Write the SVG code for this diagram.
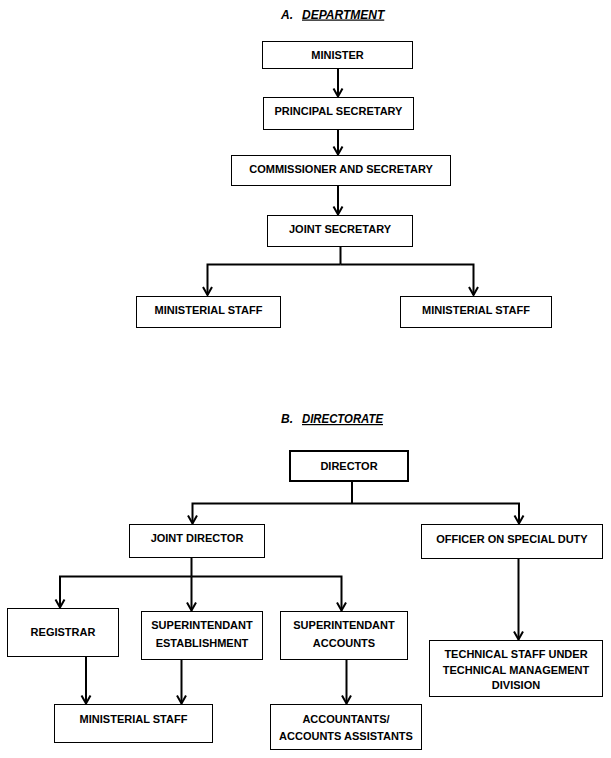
<svg xmlns="http://www.w3.org/2000/svg" width="611" height="758" viewBox="0 0 611 758">
<style>
  .box { fill: #ffffff; stroke: #000000; stroke-width: 1; }
  .boxb { fill: #ffffff; stroke: #000000; stroke-width: 2; }
  .lbl { font-family: "Liberation Sans", Arial, sans-serif; font-weight: bold; font-size: 11px; fill: #000000; text-anchor: middle; }
  .ttl { font-family: "Liberation Sans", Arial, sans-serif; font-weight: bold; font-style: italic; font-size: 12px; fill: #000000; }
  .con { fill: none; stroke: #000000; stroke-width: 2; }
  .arr { marker-end: url(#ah); }
</style>
<defs>
  <marker id="ah" viewBox="-10 -6 12 12" markerWidth="12" markerHeight="12" markerUnits="userSpaceOnUse" refX="0" refY="0" orient="auto">
    <path d="M-8,-4.5 L0,0 L-8,4.5" fill="none" stroke="#000000" stroke-width="2"/>
  </marker>
</defs>
<rect x="0" y="0" width="611" height="758" fill="#ffffff"/>

<g id="title-a">
  <text class="ttl" x="281" y="18.5">A.<tspan x="302" text-decoration="underline">DEPARTMENT</tspan></text>
</g>
<g id="title-b">
  <text class="ttl" x="281" y="423">B.<tspan x="302" textLength="81" lengthAdjust="spacingAndGlyphs" text-decoration="underline">DIRECTORATE</tspan></text>
</g>

<g id="connectors">
  <!-- Department -->
  <line class="con arr" x1="338" y1="68.5" x2="338" y2="96.5"/>
  <line class="con arr" x1="338" y1="129.5" x2="338" y2="154.5"/>
  <line class="con arr" x1="338" y1="185.5" x2="338" y2="214.5"/>
  <polyline class="con" points="340.5,246.5 340.5,264.5"/>
  <polyline class="con arr" points="340.5,264.5 207.5,264.5 207.5,295"/>
  <polyline class="con arr" points="340.5,264.5 473.5,264.5 473.5,295"/>
  <!-- Directorate -->
  <polyline class="con" points="352,482 352,503.5"/>
  <polyline class="con arr" points="352,503.5 192.5,503.5 192.5,523.5"/>
  <polyline class="con arr" points="352,503.5 519,503.5 519,523.5"/>
  <polyline class="con" points="191.5,557.5 191.5,576.5"/>
  <polyline class="con arr" points="191.5,576.5 60,576.5 60,607.5"/>
  <line class="con arr" x1="191.5" y1="576.5" x2="191.5" y2="610.5"/>
  <polyline class="con arr" points="191.5,576.5 341.5,576.5 341.5,610.5"/>
  <line class="con arr" x1="518.5" y1="558.5" x2="518.5" y2="639.5"/>
  <line class="con arr" x1="86" y1="656.5" x2="86" y2="703.5"/>
  <line class="con arr" x1="181.5" y1="659.5" x2="181.5" y2="703.5"/>
  <line class="con arr" x1="346.5" y1="659.5" x2="346.5" y2="703.5"/>
</g>

<g id="minister">
  <rect class="box" x="262.5" y="41.5" width="150" height="27"/>
  <text class="lbl" x="337.5" y="59">MINISTER</text>
</g>
<g id="principal-secretary">
  <rect class="box" x="263.5" y="97.5" width="150" height="32"/>
  <text class="lbl" x="338.5" y="115">PRINCIPAL SECRETARY</text>
</g>
<g id="commissioner">
  <rect class="box" x="231.5" y="155.5" width="219" height="30"/>
  <text class="lbl" x="341" y="173.3">COMMISSIONER AND SECRETARY</text>
</g>
<g id="joint-secretary">
  <rect class="box" x="267.5" y="215.5" width="145" height="31"/>
  <text class="lbl" x="340" y="233.3">JOINT SECRETARY</text>
</g>
<g id="ministerial-staff-a1">
  <rect class="box" x="136.5" y="296.5" width="144" height="31"/>
  <text class="lbl" x="208.5" y="314">MINISTERIAL STAFF</text>
</g>
<g id="ministerial-staff-a2">
  <rect class="box" x="400.5" y="296.5" width="151" height="31"/>
  <text class="lbl" x="476" y="314">MINISTERIAL STAFF</text>
</g>

<g id="director">
  <rect class="boxb" x="290" y="451" width="118" height="30"/>
  <text class="lbl" x="349" y="469.5">DIRECTOR</text>
</g>
<g id="joint-director">
  <rect class="box" x="129.5" y="524.5" width="135" height="33"/>
  <text class="lbl" x="197" y="542">JOINT DIRECTOR</text>
</g>
<g id="osd">
  <rect class="box" x="421.5" y="524.5" width="181" height="34"/>
  <text class="lbl" x="512" y="542.5">OFFICER ON SPECIAL DUTY</text>
</g>
<g id="registrar">
  <rect class="box" x="7.5" y="608.5" width="111" height="48"/>
  <text class="lbl" x="63" y="636">REGISTRAR</text>
</g>
<g id="supt-establishment">
  <rect class="box" x="141.5" y="611.5" width="121" height="48"/>
  <text class="lbl" x="202" y="629">SUPERINTENDANT</text>
  <text class="lbl" x="202" y="647.3">ESTABLISHMENT</text>
</g>
<g id="supt-accounts">
  <rect class="box" x="280.5" y="611.5" width="127" height="48"/>
  <text class="lbl" x="344" y="629">SUPERINTENDANT</text>
  <text class="lbl" x="344" y="647.3">ACCOUNTS</text>
</g>
<g id="technical-staff">
  <rect class="box" x="429.5" y="640.5" width="173" height="56"/>
  <text class="lbl" x="516" y="658.3">TECHNICAL STAFF UNDER</text>
  <text class="lbl" x="516" y="673.5">TECHNICAL MANAGEMENT</text>
  <text class="lbl" x="516" y="689">DIVISION</text>
</g>
<g id="ministerial-staff-b">
  <rect class="box" x="54.5" y="704.5" width="158" height="38"/>
  <text class="lbl" x="133.5" y="722.5">MINISTERIAL STAFF</text>
</g>
<g id="accountants">
  <rect class="box" x="270.5" y="704.5" width="151" height="45"/>
  <text class="lbl" x="346" y="722.5">ACCOUNTANTS/</text>
  <text class="lbl" x="346" y="740">ACCOUNTS ASSISTANTS</text>
</g>
</svg>
